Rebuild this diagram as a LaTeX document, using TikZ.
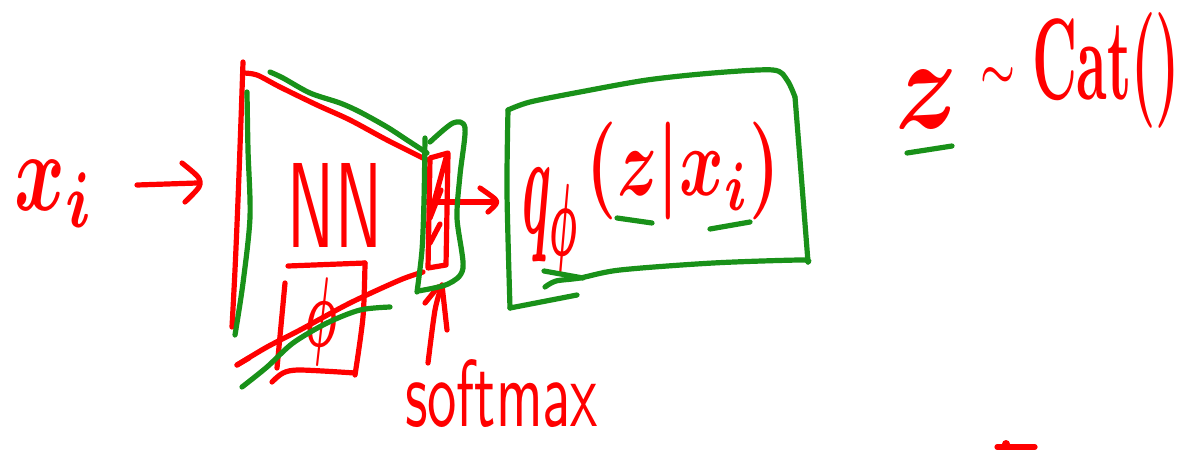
\documentclass[tikz,border=0pt]{standalone}
\usepackage{graphicx}
\usepackage{amsmath}
\definecolor{pen}{RGB}{255,0,0}
\definecolor{hl}{RGB}{25,145,25}
\newcommand\fitbox[3]{\resizebox*{#1}{#2}{#3}}
\begin{document}
\begin{tikzpicture}[x=0.5pt,y=-0.5pt,
  ink/.style={line width=2.6pt,line cap=round,line join=round},
  redink/.style={ink,draw=pen},
  greenink/.style={ink,draw=hl},
  label/.style={inner sep=0pt,outer sep=0pt,text=pen,font=\boldmath}]
\useasboundingbox[fill=white] (0,0) rectangle (1186,449);

% ---- texts ----
\node[label] (xi) at (55,193.5) {\fitbox{40pt}{33.5pt}{$x_i$}};
\node[label] (nn) at (335,205) {\fitbox{47pt}{42pt}{\sffamily NN}};
\node[label] (phi) at (321,322) {\fitbox{16pt}{44pt}{$\phi$}};
\node[label] (q) at (551,221.5) {\fitbox{29pt}{53.5pt}{$q_\phi$}};
\node[label] (arg) at (683.5,171) {\fitbox{96.5pt}{49pt}{$(z|x_i)$}};
\node[label] (soft) at (501.5,394) {\fitbox{96.5pt}{34pt}{\sffamily softmax}};
\node[label] (z) at (926.5,99) {\fitbox{31.5pt}{29pt}{$z$}};
\node[label] (tilde) at (997.5,77) {\fitbox{17.5pt}{10pt}{$\sim$}};
\node[label] (cat) at (1106,70) {\fitbox{74pt}{58pt}{$\mathrm{Cat}()$}};

% ---- red strokes ----
% x_i arrow
\draw[redink] (137,185) -- (197,183);
\draw[redink] plot[smooth] coordinates {(182,163) (198,177) (199,187) (185,202)};
% NN trapezoid
\draw[redink] plot[smooth] coordinates {(243,62) (241,120) (238,200) (235,270) (232,327)};
\draw[redink] plot[smooth] coordinates {(243,73) (257,75) (280,87) (317,105) (350,120) (387,140) (427,160)};
\draw[redink] plot[smooth] coordinates {(423,272) (400,280) (350,303) (300,330) (267,347) (237,365)};
\draw[redink] (237,365) -- (249,358);
% phi box
\draw[redink] (288,266) -- (365,263);
\draw[redink] plot[smooth] coordinates {(365,263) (363,317) (355,375)};
\draw[redink] plot[smooth] coordinates {(272,382) (283,373) (300,370) (355,373)};
\draw[redink] (285,283) -- (277,368);
% softmax bar
\draw[redink] (430,158) -- (448,153) -- (446,265) -- (428,268) -- cycle;
\draw[redink] (446,158) -- (431,213);
\draw[redink] (441,190) -- (430,218);
\draw[redink] (440,224) -- (430,243);
% arrow to q
\draw[redink] (425,202) -- (495,202);
\draw[redink] plot[smooth] coordinates {(480,188) (495,199) (496,204) (488,212)};
% upward arrow
\draw[redink] plot[smooth] coordinates {(428,363) (435,310) (442,285)};
\draw[redink] plot[smooth] coordinates {(442,285) (444,303) (447,330)};
\draw[redink] (425,303) -- (438,287);
% small mark at bottom
\draw[redink] (997,447) -- (1035,447);
\fill[pen] (1006,444) circle (4);

% ---- green strokes ----
\draw[greenink] plot[smooth] coordinates {(247,92) (248,150) (250,217) (243,283) (235,335)};
\draw[greenink] plot[smooth] coordinates {(270,72) (283,78) (310,93) (340,103) (360,112) (387,127) (407,140) (427,153)};
\draw[greenink] plot[smooth] coordinates {(390,307) (360,310) (327,323) (293,343) (267,367) (242,387)};
% softmax green frame
\draw[greenink] plot[smooth] coordinates {(425,138) (424,200) (422,250) (417,292)};
\draw[greenink] plot[smooth] coordinates {(430,142) (453,123) (465,128) (460,175) (457,218) (463,268) (448,284) (418,291)};
% q box
\draw[greenink] plot[smooth] coordinates {(508,110) (530,102) (580,92) (647,80) (713,73) (773,70) (787,80) (795,97)};
\draw[greenink] plot[smooth] coordinates {(795,97) (800,160) (808,262)};
\draw[greenink] plot[smooth] coordinates {(808,262) (800,260) (713,263) (620,270) (580,278) (556,281) (545,287)};
\draw[greenink] plot[smooth] coordinates {(508,110) (507,193) (510,308)};
\draw[greenink] (510,308) -- (577,295);
\draw[greenink] (544,271) -- (583,278);
% underlines
\draw[greenink] (617,218) -- (652,223);
\draw[greenink] (710,229) -- (750,222);
\draw[greenink] (907,153) -- (952,146);
\end{tikzpicture}
\end{document}
